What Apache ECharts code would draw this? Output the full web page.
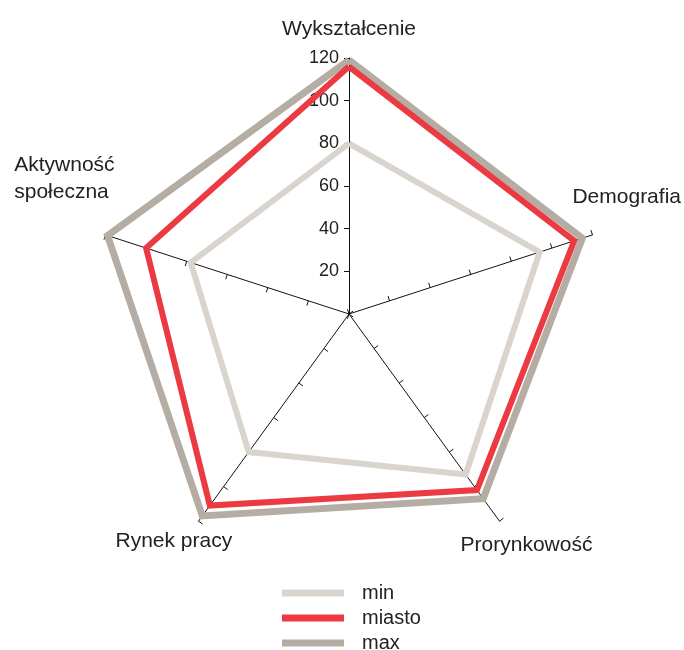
<!DOCTYPE html>
<html>
<head>
<meta charset="utf-8">
<script src="https://cdn.jsdelivr.net/npm/echarts@6/dist/echarts.min.js"></script>
<style>
  html, body { margin: 0; padding: 0; background: #fff; }
  #chart { width: 684px; height: 650px; }
</style>
</head>
<body>
<div id="chart"></div>
<script>
// clockwise from the top
const indicators = ['Wykształcenie', 'Demografia', 'Prorynkowość', 'Rynek pracy', 'Aktywność\nspołeczna'];
const seriesNames = ['min', 'miasto', 'max'];
const minValues = [80, 94, 93, 80, 78];
const miastoValues = [116, 111, 102, 111, 100];
const maxValues = [119, 115, 107, 117, 119];
const axisMax = 120;

// echarts radar goes counter-clockwise, so flip the order after the first axis
const order = [0, 4, 3, 2, 1];
const reorder = arr => order.map(i => arr[i]);

const chart = echarts.init(document.getElementById('chart'));
const font = '"Liberation Sans", Arial, sans-serif';

// name placement per axis
const nameLayout = {
  'Wykształcenie': { gap: 15, style: { align: 'center', verticalAlign: 'bottom' } },
  'Demografia': { gap: 36, style: { align: 'center', verticalAlign: 'bottom', padding: [0, 0, 13, 0] } },
  'Prorynkowość': { gap: 46, style: { align: 'center', verticalAlign: 'bottom' } },
  'Rynek pracy': { gap: 42, style: { align: 'center', verticalAlign: 'bottom' } },
  'Aktywność\nspołeczna': { gap: 96, style: { align: 'left', verticalAlign: 'bottom' } }
};

const option = {
  animation: false,
  textStyle: { fontFamily: font },
  legend: {
    data: seriesNames,
    orient: 'vertical',
    left: 277,
    top: 578,
    height: 120,
    itemWidth: 62,
    itemHeight: 7,
    itemGap: 5,
    icon: 'rect',
    textStyle: { fontSize: 20, color: '#222', fontFamily: font, padding: [0, 0, 0, 13] }
  },
  radar: {
    center: [349, 314],
    radius: 256,
    startAngle: 90,
    splitNumber: 6,
    shape: 'polygon',
    axisName: { color: '#222', fontSize: 21, fontFamily: font, lineHeight: 27 },
    splitLine: { show: false },
    splitArea: { show: false },
    axisLine: { lineStyle: { color: '#111', width: 1 } },
    axisTick: { show: true, length: 5, lineStyle: { color: '#111' } },
    axisLabel: { show: false },
    indicator: reorder(indicators).map(function (name, i) {
      const ind = {
        name: name, min: 0, max: axisMax,
        nameGap: nameLayout[name].gap,
        nameTextStyle: nameLayout[name].style
      };
      if (i === 0) {
        ind.axisLabel = { show: true, showMinLabel: false, fontSize: 18, color: '#222', margin: 10 };
      }
      return ind;
    })
  },
  series: [{
    type: 'radar',
    symbol: 'none',
    data: [
      { name: 'max', value: reorder(maxValues), lineStyle: { color: '#b5ada3', width: 7, join: 'miter' }, itemStyle: { color: '#b5ada3' } },
      { name: 'miasto', value: reorder(miastoValues), lineStyle: { color: '#ec3a43', width: 6, join: 'miter' }, itemStyle: { color: '#ec3a43' } },
      { name: 'min', value: reorder(minValues), lineStyle: { color: '#d9d4ce', width: 6, join: 'miter' }, itemStyle: { color: '#d9d4ce' } }
    ]
  }]
};

chart.setOption(option);
</script>
</body>
</html>
